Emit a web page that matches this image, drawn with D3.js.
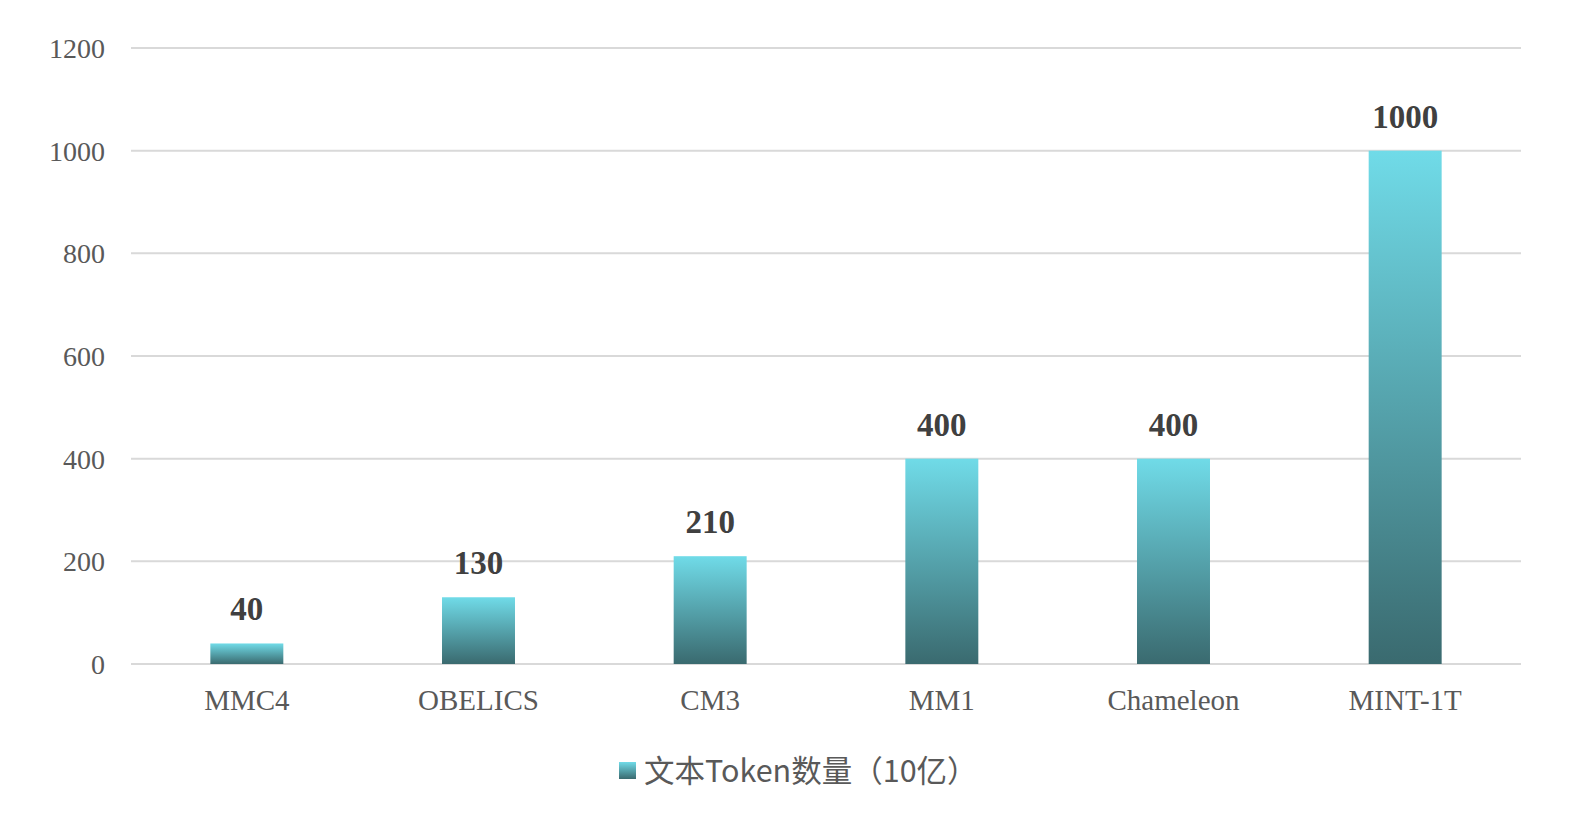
<!DOCTYPE html>
<html>
<head>
<meta charset="utf-8">
<script src="https://cdn.jsdelivr.net/npm/d3@7"></script>
<style>
  body { margin: 0; background: #fff; }
</style>
</head>
<body>
<div id="chart"></div>
<script>
// chart data
var categories = ["MMC4", "OBELICS", "CM3", "MM1", "Chameleon", "MINT-1T"];
var values = [40, 130, 210, 400, 400, 1000];
var yTicks = [0, 200, 400, 600, 800, 1000, 1200];
var seriesName = "文本Token数量（10亿）";

var width = 1571, height = 817;
var margin = {top: 48, right: 50, bottom: 153, left: 131};

var svg = d3.select("#chart")
  .append("svg")
  .attr("width", width)
  .attr("height", height);

// gradient used by every bar, light cyan on top to dark teal at the bottom
var grad = svg.append("defs").append("linearGradient")
  .attr("id", "barGrad")
  .attr("x1", 0).attr("y1", 0)
  .attr("x2", 0).attr("y2", 1);
grad.append("stop").attr("offset", "0%").attr("stop-color", "#70dbe8");
grad.append("stop").attr("offset", "100%").attr("stop-color", "#3a6a6f");

var x = d3.scaleBand()
  .domain(categories)
  .range([margin.left, width - margin.right])
  .paddingInner(0.685)
  .paddingOuter(0.3425);

var y = d3.scaleLinear()
  .domain([0, 1200])
  .range([height - margin.bottom, margin.top]);

// gridlines
svg.append("g")
  .selectAll("line")
  .data(yTicks)
  .enter()
  .append("line")
  .attr("x1", margin.left)
  .attr("x2", width - margin.right)
  .attr("y1", function(d) { return y(d); })
  .attr("y2", function(d) { return y(d); })
  .style("stroke", "#d9d9d9")
  .style("stroke-width", 2);

// y axis labels
var yAxis = svg.append("g")
  .attr("transform", "translate(" + (margin.left - 26) + ",0)")
  .call(d3.axisLeft(y).tickValues(yTicks).tickFormat(d3.format("d")).tickSize(0).tickPadding(0));
yAxis.select(".domain").remove();
yAxis.selectAll("text")
  .attr("dy", "0.34em")
  .style("font-family", "'Liberation Serif', 'Times New Roman', serif")
  .style("font-size", "28px")
  .style("fill", "#595959");

// bars
svg.append("g")
  .selectAll("rect")
  .data(values)
  .enter()
  .append("rect")
  .attr("x", function(d, i) { return x(categories[i]); })
  .attr("y", function(d) { return y(d); })
  .attr("width", x.bandwidth())
  .attr("height", function(d) { return y(0) - y(d); })
  .style("fill", "url(#barGrad)");

// value labels
svg.append("g")
  .selectAll("text")
  .data(values)
  .enter()
  .append("text")
  .attr("x", function(d, i) { return x(categories[i]) + x.bandwidth() / 2; })
  .attr("y", function(d) { return y(d) - 23; })
  .attr("text-anchor", "middle")
  .style("font-family", "'Liberation Serif', 'Times New Roman', serif")
  .style("font-weight", "bold")
  .style("font-size", "33px")
  .style("fill", "#404040")
  .text(function(d) { return d; });

// x axis
var xAxis = svg.append("g")
  .attr("transform", "translate(0," + y(0) + ")")
  .call(d3.axisBottom(x).tickSize(0).tickPadding(0));
xAxis.select(".domain").remove();
xAxis.selectAll("text")
  .attr("dy", "46px")
  .style("font-family", "'Liberation Serif', 'Times New Roman', serif")
  .style("font-size", "29px")
  .style("fill", "#595959");

// legend
var legend = svg.append("g")
  .attr("transform", "translate(619,762)");
legend.append("rect")
  .attr("width", 17)
  .attr("height", 17)
  .style("fill", "url(#barGrad)");
legend.append("text")
  .attr("x", 25)
  .attr("y", 20)
  .style("font-family", "'Noto Sans CJK SC', 'Microsoft YaHei', sans-serif")
  .style("font-size", "30.5px")
  .style("fill", "#595959")
  .text(seriesName);
</script>
</body>
</html>
